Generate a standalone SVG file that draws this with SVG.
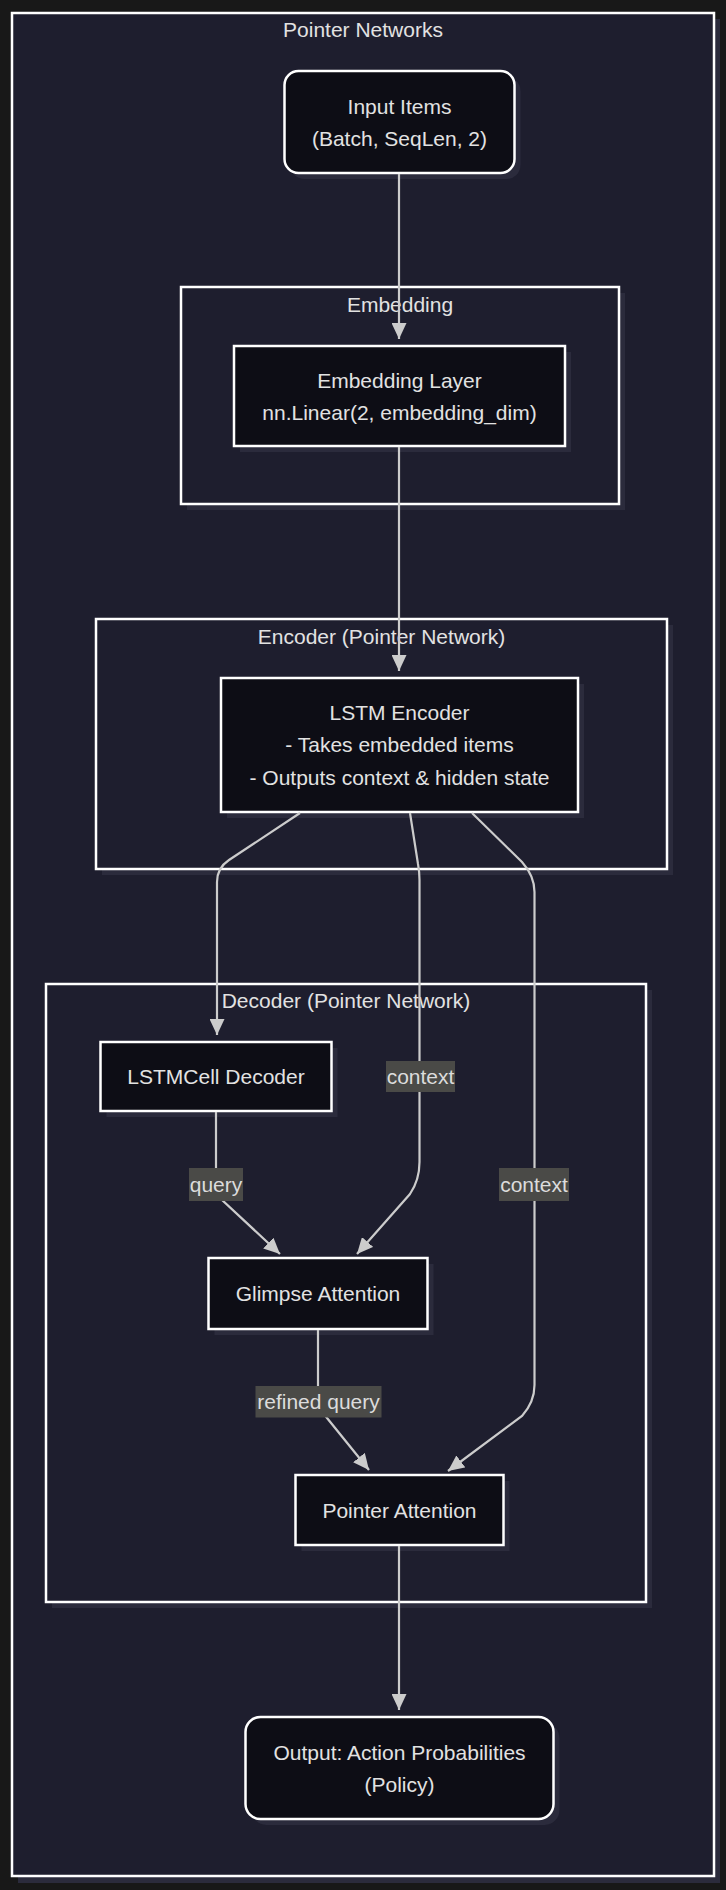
<svg xmlns="http://www.w3.org/2000/svg" width="726" height="1890" viewBox="0 0 726 1890">
<style>
.cl{fill:#1e1e2e;stroke:#ffffff;stroke-width:2.5}
.sh{fill:#2b2b3c}
.nd{fill:#0d0d15;stroke:#ffffff;stroke-width:2.5}
.t{font-family:"Liberation Sans",Arial,sans-serif;font-size:21px;fill:#e2e2e2;text-anchor:middle;dominant-baseline:central}
.ct{font-family:"Liberation Sans",Arial,sans-serif;font-size:21px;fill:#e2e2e2;text-anchor:middle;dominant-baseline:central}
.e{fill:none;stroke:#cccccc;stroke-width:2.2}
.lb{fill:#4a4a47}
.lt{font-family:"Liberation Sans",Arial,sans-serif;font-size:21px;fill:#dcdcdc;text-anchor:middle;dominant-baseline:central}
</style>
<defs>
<marker id="ah" markerUnits="userSpaceOnUse" viewBox="0 0 16 15" refX="16" refY="7.5" markerWidth="16" markerHeight="15" orient="auto">
<path d="M0,0 L16,7.5 L0,15 z" fill="#cccccc"/>
</marker>
</defs>
<rect x="0" y="0" width="726" height="1890" fill="#181818"/>
<g id="cluster-outer">
<rect class="sh" x="18" y="19" width="702" height="1864"/>
<rect class="cl" x="12" y="13" width="702" height="1863"/>
<text class="ct" x="363" y="29">Pointer Networks</text>
</g>
<g id="cluster-embedding">
<rect class="sh" x="187" y="293" width="438" height="217"/>
<rect class="cl" x="181" y="287" width="438" height="217"/>
<text class="ct" x="400" y="304">Embedding</text>
</g>
<g id="cluster-encoder">
<rect class="sh" x="102" y="625" width="571" height="250"/>
<rect class="cl" x="96" y="619" width="571" height="250"/>
<text class="ct" x="381.5" y="636">Encoder (Pointer Network)</text>
</g>
<g id="cluster-decoder">
<rect class="sh" x="52" y="990" width="600" height="618"/>
<rect class="cl" x="46" y="984" width="600" height="618"/>
<text class="ct" x="346" y="1000">Decoder (Pointer Network)</text>
</g>
<g id="node-input">
<rect class="sh" x="290.5" y="77" width="230" height="102" rx="14"/>
<rect class="nd" x="284.5" y="71" width="230" height="102" rx="14"/>
<text class="t" x="399.5" y="106">Input Items</text>
<text class="t" x="399.5" y="138">(Batch, SeqLen, 2)</text>
</g>
<g id="node-embedding">
<rect class="sh" x="240" y="352" width="331" height="100"/>
<rect class="nd" x="234" y="346" width="331" height="100"/>
<text class="t" x="399.5" y="380">Embedding Layer</text>
<text class="t" x="399.5" y="412">nn.Linear(2, embedding_dim)</text>
</g>
<g id="node-encoder">
<rect class="sh" x="227" y="684" width="357" height="134"/>
<rect class="nd" x="221" y="678" width="357" height="134"/>
<text class="t" x="399.5" y="712">LSTM Encoder</text>
<text class="t" x="399.5" y="744.5">- Takes embedded items</text>
<text class="t" x="399.5" y="777">- Outputs context &amp; hidden state</text>
</g>
<g id="node-decoder">
<rect class="sh" x="106.5" y="1048" width="231" height="69"/>
<rect class="nd" x="100.5" y="1042" width="231" height="69"/>
<text class="t" x="216" y="1076">LSTMCell Decoder</text>
</g>
<g id="node-glimpse">
<rect class="sh" x="214.5" y="1264" width="219" height="71"/>
<rect class="nd" x="208.5" y="1258" width="219" height="71"/>
<text class="t" x="318" y="1293">Glimpse Attention</text>
</g>
<g id="node-pointer">
<rect class="sh" x="301.5" y="1481" width="208" height="70"/>
<rect class="nd" x="295.5" y="1475" width="208" height="70"/>
<text class="t" x="399.5" y="1510">Pointer Attention</text>
</g>
<g id="node-output">
<rect class="sh" x="251.5" y="1723" width="308" height="102" rx="15"/>
<rect class="nd" x="245.5" y="1717" width="308" height="102" rx="15"/>
<text class="t" x="399.5" y="1752">Output: Action Probabilities</text>
<text class="t" x="399.5" y="1784">(Policy)</text>
</g>
<g id="connectors">
<path class="e" d="M399,174 L399,339" marker-end="url(#ah)"/>
<path class="e" d="M399,447 L399,671" marker-end="url(#ah)"/>
<path class="e" d="M300,813 L229,860 Q217,868 217,882 L217,1035" marker-end="url(#ah)"/>
<path class="e" d="M410,813 L418,864 Q419.5,872 419.5,880 L419.5,1162 Q419.5,1180 410,1194 L357,1254" marker-end="url(#ah)"/>
<path class="e" d="M472,813 L522,862 Q534.5,876 534.5,892 L534.5,1385 Q534.5,1402 522,1416 L448,1471" marker-end="url(#ah)"/>
<path class="e" d="M216,1112 L216,1184 Q216,1192 221,1199 L280,1254" marker-end="url(#ah)"/>
<path class="e" d="M318,1330 L318,1398 Q318,1406 323,1413 L369,1470" marker-end="url(#ah)"/>
<path class="e" d="M399,1546 L399,1710" marker-end="url(#ah)"/>
<g id="label-context1"><rect class="lb" x="386" y="1061" width="69" height="31"/><text class="lt" x="420.5" y="1076.5">context</text></g>
<g id="label-query"><rect class="lb" x="189" y="1168" width="54" height="33"/><text class="lt" x="216" y="1184.5">query</text></g>
<g id="label-context2"><rect class="lb" x="499" y="1168" width="70" height="33"/><text class="lt" x="534" y="1184.5">context</text></g>
<g id="label-refined"><rect class="lb" x="255.5" y="1386" width="126" height="31.5"/><text class="lt" x="318.5" y="1401.5">refined query</text></g>
</g>
</svg>
